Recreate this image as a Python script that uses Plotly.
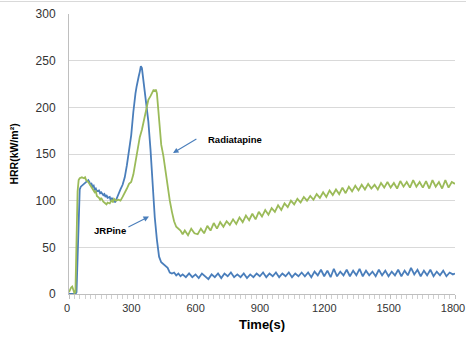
import plotly.graph_objects as go

# JRPine (blue)
jr_t = [0, 10, 20, 30, 35, 40, 45, 50, 55, 60, 70, 80, 90, 95, 100, 105, 110, 115, 120, 125, 130, 140, 145, 150,
        160, 165, 170, 175, 180, 190, 195, 200, 205, 210, 215, 220, 225, 230, 240, 250, 260, 270, 280, 290, 300,
        305, 310, 315, 320, 325, 330, 335, 340, 345, 350, 360, 370, 380, 390, 400, 410, 420, 430, 440, 450, 460,
        470, 480, 490, 500, 510, 520, 530, 545, 560, 575, 590, 605, 620, 635, 650, 665, 680, 695, 710, 725, 740,
        755, 770, 785, 800, 815, 830, 845, 860, 875, 890, 905, 920, 935, 950, 965, 980, 995, 1010, 1025, 1040,
        1055, 1070, 1085, 1100, 1115, 1130, 1145, 1160, 1175, 1190, 1205, 1220, 1235, 1250, 1265, 1280, 1295,
        1310, 1325, 1340, 1355, 1370, 1385, 1400, 1415, 1430, 1445, 1460, 1475, 1490, 1505, 1520, 1535, 1550,
        1565, 1580, 1595, 1610, 1625, 1640, 1655, 1670, 1685, 1700, 1715, 1730, 1745, 1760, 1775, 1790, 1800]
jr_v = [0, 0, 0, 0, 2, 40, 95, 112, 115, 116, 117, 119, 122, 120, 117, 118, 115, 116, 112, 113, 110, 111, 108, 109,
        106, 107, 104, 106, 103, 104, 100, 103, 99, 101, 98, 101, 104, 108, 112, 117, 125, 138, 152, 170, 195,
        210, 215, 222, 230, 233, 238, 244, 242, 232, 225, 200, 185, 155, 115, 82, 58, 40, 34, 32, 30, 28,
        23, 22, 23, 20, 22, 19, 21, 18, 22, 18, 21, 17, 22, 19, 16, 21, 18, 22, 17, 22, 19,
        23, 18, 21, 18, 22, 17, 21, 18, 22, 19, 23, 18, 22, 19, 23, 18, 22, 19, 23, 18,
        22, 19, 23, 19, 23, 18, 24, 20, 26, 19, 25, 18, 27, 19, 24, 20, 26,
        19, 25, 20, 27, 19, 25, 20, 24, 19, 26, 20, 25, 19, 24, 20, 26, 19,
        25, 20, 28, 21, 26, 19, 25, 20, 26, 19, 24, 20, 25, 19, 23, 21, 22]

# Radiatapine (green)
rp_t = [0, 5, 10, 15, 20, 25, 30, 35, 40, 45, 50, 60, 70, 75, 80, 90, 100, 110, 120, 125, 130, 140, 145, 150,
        160, 170, 175, 180, 190, 200, 205, 210, 220, 230, 240, 250, 260, 270, 280, 290, 300, 310, 320, 330, 340,
        350, 360, 370, 380, 390, 395, 400, 405, 410, 415, 420, 430, 440, 450, 460, 470, 480, 490, 500, 510, 520,
        530, 540, 555, 570, 585, 600, 615, 630, 645, 660, 675, 690, 705, 720, 735, 750, 765, 780, 795, 810, 825,
        840, 855, 870, 885, 900, 915, 930, 945, 960, 975, 990, 1005, 1020, 1035, 1050, 1065, 1080, 1095, 1110,
        1125, 1140, 1155, 1170, 1185, 1200, 1215, 1230, 1245, 1260, 1275, 1290, 1305, 1320, 1335, 1350, 1365,
        1380, 1395, 1410, 1425, 1440, 1455, 1470, 1485, 1500, 1515, 1530, 1545, 1560, 1575, 1590, 1605, 1620,
        1635, 1650, 1665, 1680, 1695, 1710, 1725, 1740, 1755, 1770, 1785, 1800]
rp_v = [2, 5, 7, 8, 5, 1, 2, 60, 110, 122, 124, 125, 124, 125, 122, 120, 116, 112, 109, 110, 105, 103, 101, 103,
        99, 97, 96, 98, 97, 101, 98, 102, 100, 101, 100, 104, 108, 113, 118, 120, 128, 142, 158, 168, 176,
        186, 198, 208, 212, 216, 219, 217, 219, 215, 200, 180, 160, 148, 130, 112, 100, 88, 78, 72, 70, 68,
        64, 68, 63, 70, 65, 64, 70, 65, 73, 68, 76, 70, 77, 72, 78, 74, 80, 75, 82, 77, 84,
        79, 86, 80, 88, 83, 90, 85, 92, 88, 95, 90, 97, 93, 100, 96, 102, 98, 104, 100,
        105, 101, 107, 103, 109, 104, 111, 106, 112, 107, 114, 108, 115, 110, 116, 111, 117,
        112, 118, 113, 117, 112, 119, 114, 120, 114, 119, 113, 121, 115, 120, 114, 122, 115,
        120, 114, 121, 113, 122, 115, 120, 113, 122, 114, 120, 118]

x_ticks = [0, 300, 600, 900, 1200, 1500, 1800]
y_ticks = [0, 50, 100, 150, 200, 250, 300]

BLUE = "#4a7ebb"
GREEN = "#9bbb59"
GRID = "#d9d9d9"

fig = go.Figure()
fig.add_trace(go.Scatter(x=jr_t, y=jr_v, mode="lines", name="JRPine",
                         line=dict(color=BLUE, width=1.8)))
fig.add_trace(go.Scatter(x=rp_t, y=rp_v, mode="lines", name="Radiatapine",
                         line=dict(color=GREEN, width=1.8)))

txt_font = dict(family="Liberation Sans", size=9.5, color="black")
fig.add_annotation(x=774, y=166, text="<b>Radiatapine</b>", showarrow=False, font=txt_font)
fig.add_annotation(x=485, y=151, ax=601, ay=167, axref="x", ayref="y", text="",
                   showarrow=True, arrowhead=2, arrowsize=1, arrowwidth=1.1, arrowcolor=BLUE)
fig.add_annotation(x=190, y=68, text="<b>JRPine</b>", showarrow=False, font=txt_font)
fig.add_annotation(x=373, y=83, ax=270, ay=71, axref="x", ayref="y", text="",
                   showarrow=True, arrowhead=2, arrowsize=1, arrowwidth=1.1, arrowcolor=BLUE)

# faint chart border line at top
fig.add_shape(type="line", xref="paper", yref="paper", x0=-69/386, x1=1+11/386,
              y0=1+12.5/280, y1=1+12.5/280, line=dict(color=GRID, width=1))

fig.update_layout(
    width=466, height=337,
    margin=dict(l=69, r=11, t=14, b=43),
    paper_bgcolor="white", plot_bgcolor="white",
    showlegend=False,
    font=dict(family="Liberation Sans", size=12, color="#333333"),
)
fig.update_xaxes(
    range=[0, 1800], tickvals=x_ticks, ticktext=[str(v) for v in x_ticks],
    showgrid=False, zeroline=False, showline=True, linecolor="#bfbfbf", linewidth=1,
    ticks="outside", ticklen=4, tickcolor="#bfbfbf",
    minor=dict(dtick=25, ticks="outside", ticklen=4, tickcolor="#d0d0d0", showgrid=False),
    tickfont=dict(size=11, color="#333333"),
    ticklabeloverflow="allow", automargin=False, ticklabelshift=-2,
    title=dict(text="<b>Time(s)</b>", font=dict(size=13, color="black"), standoff=6),
)
fig.update_yaxes(
    range=[0, 300], tickvals=y_ticks, ticktext=[str(v) for v in y_ticks],
    showgrid=True, gridcolor=GRID, gridwidth=1, zeroline=False,
    showline=True, linecolor="#bfbfbf", linewidth=1, ticks="",
    ticklabelstandoff=10, automargin=False,
    tickfont=dict(size=12, color="#333333"),
    title=dict(text="<b>HRR(kW/m²)</b>", font=dict(size=10.5, color="black"), standoff=14),
)

fig.write_html("out.html")
